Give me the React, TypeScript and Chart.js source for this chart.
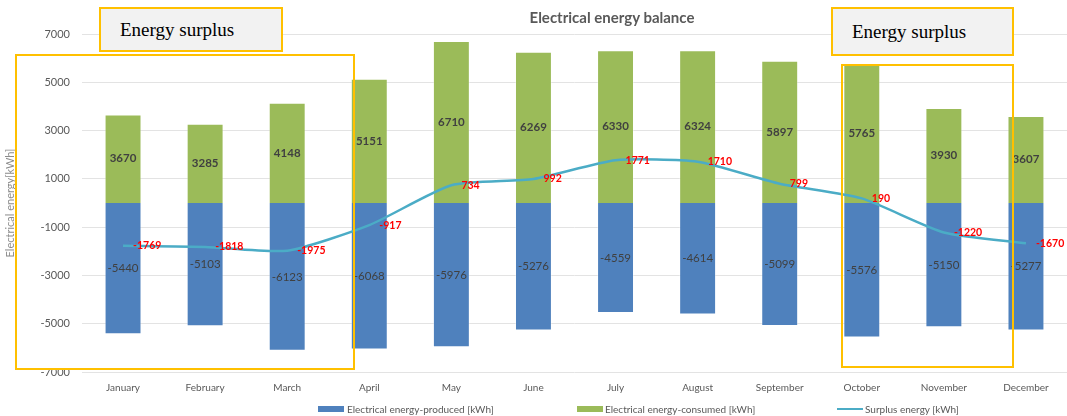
import React, { useEffect, useRef } from "react";
import { Chart, registerables } from "chart.js";

Chart.register(...registerables);

const months = [
  "January", "February", "March", "April", "May", "June",
  "July", "August", "September", "October", "November", "December",
];
const produced = [-5440, -5103, -6123, -6068, -5976, -5276, -4559, -4614, -5099, -5576, -5150, -5277];
const consumed = [3670, 3285, 4148, 5151, 6710, 6269, 6330, 6324, 5897, 5765, 3930, 3607];
const surplus = [-1769, -1818, -1975, -917, 734, 992, 1771, 1710, 799, 190, -1220, -1670];

const yMin = -7000;
const yMax = 7000;
const yStep = 2000;

const titleText = "Electrical energy balance";
const yTitle = "Electrical energy[kWh]";
const seriesNames = [
  "Electrical energy-produced [kWh]",
  "Electrical energy-consumed [kWh]",
  "Surplus energy [kWh]",
];
const annotationText = "Energy surplus";

const BLUE = "#4f81bd";
const GREEN = "#9bbb59";
const LINE = "#4bacc6";
const FONT = "Lato, 'Open Sans', sans-serif";

const labelPlugin = {
  id: "valueLabels",
  afterDatasetsDraw(chart: any) {
    const ctx = chart.ctx;
    ctx.save();
    ctx.textAlign = "center";
    ctx.textBaseline = "middle";
    [0, 1].forEach((di) => {
      const meta = chart.getDatasetMeta(di);
      const data = chart.data.datasets[di].data;
      meta.data.forEach((el: any, i: number) => {
        const p = el.getProps(["x", "y", "base"], true);
        ctx.font = (di === 1 ? "bold " : "") + "11.5px " + FONT;
        ctx.fillStyle = "#404040";
        ctx.fillText(String(data[i]), p.x, (p.y + p.base) / 2);
      });
    });
    const lm = chart.getDatasetMeta(2);
    const ld = chart.data.datasets[2].data;
    ctx.textAlign = "left";
    ctx.font = "bold 10.5px " + FONT;
    ctx.fillStyle = "#ff0000";
    lm.data.forEach((el: any, i: number) => {
      ctx.fillText(String(ld[i]), el.x + 10, el.y);
    });
    ctx.restore();
  },
};

export default function App() {
  const ref = useRef<HTMLCanvasElement | null>(null);

  useEffect(() => {
    document.body.style.margin = "0";
    const canvas = ref.current;
    if (!canvas) return;
    const chart = new Chart(canvas, {
      type: "bar",
      data: {
        labels: months,
        datasets: [
          {
            type: "bar",
            label: seriesNames[0],
            data: produced,
            backgroundColor: BLUE,
            borderColor: "rgba(255,255,255,0.35)",
            borderWidth: 1,
            barPercentage: 0.9,
            categoryPercentage: 0.5,
            order: 1,
          },
          {
            type: "bar",
            label: seriesNames[1],
            data: consumed,
            backgroundColor: GREEN,
            borderColor: "rgba(255,255,255,0.35)",
            borderWidth: 1,
            barPercentage: 0.9,
            categoryPercentage: 0.5,
            order: 1,
          },
          {
            type: "line",
            label: seriesNames[2],
            data: surplus,
            borderColor: LINE,
            backgroundColor: LINE,
            borderWidth: 2.5,
            pointRadius: 0,
            tension: 0.2,
            order: 0,
          } as any,
        ],
      },
      options: {
        responsive: false,
        maintainAspectRatio: false,
        animation: false,
        layout: { padding: { top: 34, bottom: 20, left: 0, right: 0 } },
        plugins: {
          legend: { display: false },
          title: { display: false },
          tooltip: { enabled: false },
        },
        scales: {
          x: {
            stacked: true,
            grid: { display: false },
            border: { display: false },
            ticks: { color: "#595959", font: { family: FONT, size: 10 }, padding: 2, maxRotation: 0 },
          },
          y: {
            stacked: true,
            min: yMin,
            max: yMax,
            grid: { color: "#e3e3e3", drawTicks: false },
            border: { display: false },
            ticks: {
              stepSize: yStep,
              color: "#595959",
              font: { family: FONT, size: 11 },
              padding: 12,
              callback: (v: any) => String(v),
            },
            title: {
              display: true,
              text: yTitle,
              color: "#8c8c8c",
              font: { family: FONT, size: 11 },
              padding: { top: 4, bottom: 0 },
            },
            afterFit(scale: any) {
              scale.width = 82;
            },
          },
        },
      },
      plugins: [labelPlugin],
    });
    return () => chart.destroy();
  }, []);

  const legendText: React.CSSProperties = {
    position: "absolute",
    top: 402,
    fontFamily: FONT,
    fontSize: 10,
    color: "#595959",
    lineHeight: "14px",
    whiteSpace: "nowrap",
  };
  const boxStyle = (left: number, color: string, h: number): React.CSSProperties => ({
    position: "absolute",
    left,
    top: 409 - h / 2,
    width: 26,
    height: h,
    background: color,
  });
  const labelBox = (left: number, width: number, height: number): React.CSSProperties => ({
    position: "absolute",
    left,
    top: 7,
    width,
    height,
    boxSizing: "border-box",
    background: "#f2f2f2",
    border: "2px solid #ffc000",
    fontFamily: "'Liberation Serif', 'Times New Roman', serif",
    fontSize: 19,
    color: "#000",
    paddingLeft: 19,
    lineHeight: (height - 4) + "px",
    whiteSpace: "nowrap",
  });
  const rect = (left: number, top: number, right: number, bottom: number): React.CSSProperties => ({
    position: "absolute",
    left,
    top,
    width: right - left,
    height: bottom - top,
    boxSizing: "border-box",
    border: "2.5px solid #ffc000",
  });

  return (
    <div style={{ position: "relative", width: 1067, height: 416, overflow: "hidden", background: "#fff" }}>
      <canvas ref={ref} width={1067} height={416} style={{ display: "block" }} />
      <div
        style={{
          position: "absolute",
          left: 462,
          top: 8,
          width: 300,
          textAlign: "center",
          fontFamily: FONT,
          fontWeight: "bold",
          fontSize: 15,
          color: "#595959",
          lineHeight: "18px",
        }}
      >
        {titleText}
      </div>
      <div style={rect(15, 54, 355, 370)} />
      <div style={rect(841, 64, 1014, 368)} />
      <div style={labelBox(99, 184, 45)}>{annotationText}</div>
      <div style={labelBox(831, 183, 49)}>{annotationText}</div>
      <div style={boxStyle(318, BLUE, 6)} />
      <div style={{ ...legendText, left: 347 }}>{seriesNames[0]}</div>
      <div style={boxStyle(577, GREEN, 6)} />
      <div style={{ ...legendText, left: 605 }}>{seriesNames[1]}</div>
      <div style={boxStyle(837, LINE, 2.5)} />
      <div style={{ ...legendText, left: 865 }}>{seriesNames[2]}</div>
    </div>
  );
}
